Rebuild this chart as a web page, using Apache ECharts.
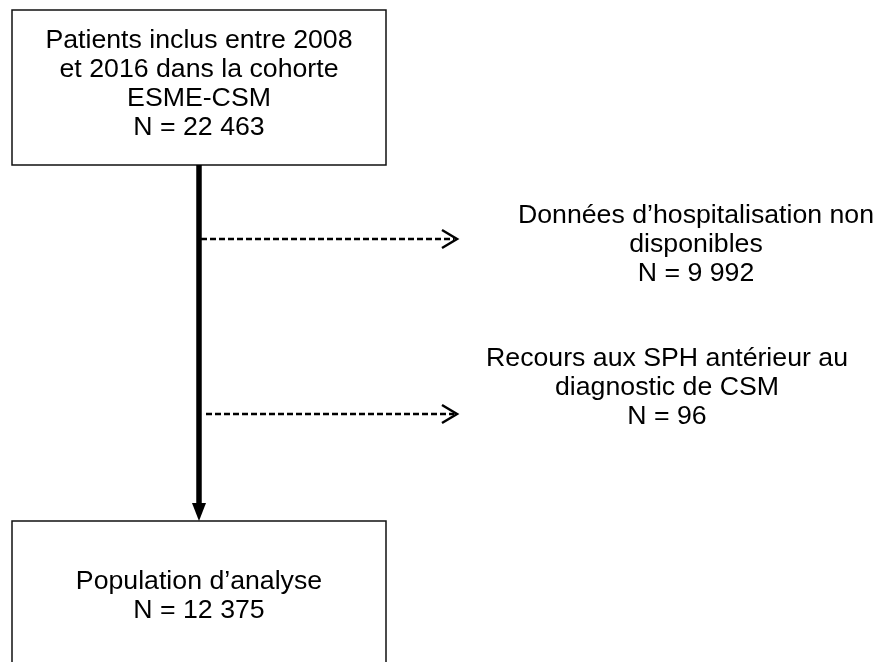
<!DOCTYPE html>
<html>
<head>
<meta charset="utf-8">
<script src="https://cdn.jsdelivr.net/npm/echarts@6.0.0/dist/echarts.min.js"></script>
<style>
	html, body { margin: 0; padding: 0; background: #fff; }
	#main { width: 877px; height: 662px; }
</style>
</head>
<body>
<div id="main"></div>
<script>
// flowchart content
const boxTitles = [
	['Patients inclus entre 2008', 'et 2016 dans la cohorte', 'ESME-CSM'],
	['Population d’analyse'],
]
const boxCounts = ['22 463', '12 375']
const exclTitles = [
	['Données d’hospitalisation non', 'disponibles'],
	['Recours aux SPH antérieur au', 'diagnostic de CSM'],
]
const exclCounts = ['9 992', '96']

// layout in page units (x right, y down)
const boxRects = [[12, 10, 386, 165, 84], [12, 521, 386, 720, 596]]
const mainFlow = [199, 165, 521]
const exclArrows = [[201, 239], [206, 414]]
const exclArrowEnd = 457
const exclTextPos = [[696, 245], [667, 388]]

const FONT = '26.7px "Liberation Sans", Arial, sans-serif'
const LH = 29

const lbl = (title, n) => title.concat(['N = ' + n]).join('\n')

const chart = echarts.init(document.getElementById('main'))

chart.setOption({
	animation: false,
	backgroundColor: '#fff',
	grid: { left: 0, right: 0, top: 0, bottom: 0 },
	xAxis: { type: 'value', min: 0, max: 877, show: false },
	yAxis: { type: 'value', min: 0, max: 662, inverse: true, show: false },
	series: [
		{
			// boxes
			type: 'custom',
			coordinateSystem: 'cartesian2d',
			data: boxRects.map((r, i) => r.concat([i])),
			renderItem: (params, api) => {
				const p0 = api.coord([api.value(0), api.value(1)])
				const p1 = api.coord([api.value(2), api.value(3)])
				const i = api.value(5)
				const tc = api.coord([(api.value(0) + api.value(2)) / 2, api.value(4)])
				return {
					type: 'group',
					children: [
						{
							type: 'rect',
							shape: { x: p0[0], y: p0[1], width: p1[0] - p0[0], height: p1[1] - p0[1] },
							style: { fill: '#fff', stroke: '#111', lineWidth: 1.5 },
						},
						{
							type: 'text',
							style: {
								text: lbl(boxTitles[i], boxCounts[i]),
								x: tc[0], y: tc[1], align: 'center', verticalAlign: 'middle',
								font: FONT, lineHeight: LH, fill: '#000',
							},
						},
					],
				}
			},
		},
		{
			// main vertical arrow
			type: 'custom',
			coordinateSystem: 'cartesian2d',
			data: [mainFlow],
			renderItem: (params, api) => {
				const a = api.coord([api.value(0), api.value(1)])
				const b = api.coord([api.value(0), api.value(2)])
				return {
					type: 'group',
					children: [
						{ type: 'line', shape: { x1: a[0], y1: a[1], x2: b[0], y2: b[1] - 16 }, style: { stroke: '#000', lineWidth: 5.5 } },
						{ type: 'polygon', shape: { points: [[b[0] - 7, b[1] - 18], [b[0] + 7, b[1] - 18], [b[0], b[1]]] }, style: { fill: '#000' } },
					],
				}
			},
		},
		{
			// exclusion arrows and texts
			type: 'custom',
			coordinateSystem: 'cartesian2d',
			data: exclArrows.map((p, i) => [p[0], p[1], exclArrowEnd, exclTextPos[i][0], exclTextPos[i][1], i]),
			renderItem: (params, api) => {
				const a = api.coord([api.value(0), api.value(1)])
				const b = api.coord([api.value(2), api.value(1)])
				const t = api.coord([api.value(3), api.value(4)])
				const i = api.value(5)
				return {
					type: 'group',
					children: [
						{ type: 'line', shape: { x1: a[0], y1: a[1], x2: b[0] - 3, y2: b[1] }, style: { stroke: '#000', lineWidth: 2.5, lineDash: [6, 3] } },
						{ type: 'polyline', shape: { points: [[b[0] - 15, b[1] - 9], [b[0], b[1]], [b[0] - 15, b[1] + 9]] }, style: { stroke: '#000', lineWidth: 2.5, fill: null } },
						{
							type: 'text',
							style: {
								text: lbl(exclTitles[i], exclCounts[i]),
								x: t[0], y: t[1], align: 'center', verticalAlign: 'middle',
								font: FONT, lineHeight: LH, fill: '#000',
							},
						},
					],
				}
			},
		},
	],
})
</script>
</body>
</html>
